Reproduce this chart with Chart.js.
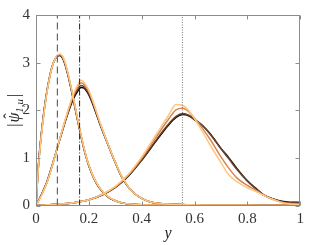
<!DOCTYPE html>
<html>
<head>
<meta charset="utf-8">
<script src="https://cdn.jsdelivr.net/npm/chart.js@4.4.1/dist/chart.umd.min.js"></script>
<style>
  html, body { margin: 0; padding: 0; background: #fff; }
  #wrap { width: 309px; height: 245px; }
</style>
</head>
<body>
<div id="wrap"><canvas id="chart" width="309" height="245"></canvas></div>
<script>
// x grids for the three families of curves
const g1x = [0, 0.01, 0.02, 0.03, 0.04, 0.05, 0.06, 0.07, 0.08, 0.09, 0.10, 0.11, 0.12, 0.13, 0.14, 0.15, 0.16, 0.17, 0.18, 0.19, 0.20, 0.22, 0.24, 0.26, 0.28, 0.30, 0.33, 0.36, 0.40, 0.45, 0.5, 0.6, 0.7, 0.8, 0.9, 1.0];
const g2x = [0, 0.02, 0.04, 0.06, 0.08, 0.10, 0.12, 0.14, 0.16, 0.17, 0.18, 0.20, 0.22, 0.24, 0.26, 0.28, 0.30, 0.32, 0.34, 0.36, 0.38, 0.40, 0.43, 0.46, 0.5, 0.6, 0.7, 0.8, 0.9, 1.0];
const g3x = [0, 0.05, 0.1, 0.15, 0.2, 0.25, 0.3, 0.35, 0.4, 0.45, 0.5, 0.53, 0.555, 0.58, 0.6, 0.63, 0.66, 0.7, 0.73, 0.76, 0.8, 0.83, 0.86, 0.9, 0.93, 0.96, 1.0];

// first peak (near y = 0.09)
const g1Black  = [0, 0.90, 1.50, 1.97, 2.36, 2.66, 2.90, 3.05, 3.13, 3.15, 3.10, 2.96, 2.76, 2.52, 2.26, 1.99, 1.72, 1.46, 1.22, 1.01, 0.83, 0.56, 0.37, 0.24, 0.15, 0.10, 0.05, 0.03, 0.015, 0.008, 0.005, 0.003, 0.002, 0.001, 0.001, 0];
const g1Brown  = [0, 0.89, 1.49, 1.96, 2.35, 2.66, 2.90, 3.05, 3.14, 3.16, 3.11, 2.97, 2.77, 2.53, 2.27, 2.00, 1.73, 1.47, 1.23, 1.02, 0.84, 0.56, 0.37, 0.24, 0.15, 0.10, 0.05, 0.03, 0.015, 0.008, 0.005, 0.003, 0.002, 0.001, 0.001, 0];
const g1Orange = [0, 0.87, 1.47, 1.94, 2.34, 2.65, 2.89, 3.05, 3.14, 3.17, 3.13, 2.99, 2.79, 2.55, 2.29, 2.02, 1.74, 1.48, 1.24, 1.03, 0.85, 0.57, 0.38, 0.25, 0.16, 0.10, 0.05, 0.03, 0.015, 0.008, 0.005, 0.003, 0.002, 0.001, 0.001, 0];
const g1Light  = [0, 0.85, 1.45, 1.93, 2.33, 2.64, 2.89, 3.05, 3.15, 3.18, 3.14, 3.00, 2.80, 2.56, 2.30, 2.03, 1.75, 1.49, 1.25, 1.03, 0.85, 0.57, 0.38, 0.25, 0.16, 0.10, 0.05, 0.03, 0.015, 0.008, 0.005, 0.003, 0.002, 0.001, 0.001, 0];

// second peak (near y = 0.17)
const g2Black  = [0, 0.22, 0.48, 0.82, 1.20, 1.57, 1.92, 2.22, 2.42, 2.48, 2.47, 2.32, 2.05, 1.74, 1.45, 1.17, 0.90, 0.65, 0.46, 0.32, 0.22, 0.15, 0.08, 0.05, 0.03, 0.01, 0.005, 0.003, 0.002, 0];
const g2Brown  = [0, 0.22, 0.47, 0.82, 1.20, 1.58, 1.94, 2.25, 2.46, 2.52, 2.50, 2.35, 2.07, 1.75, 1.46, 1.17, 0.90, 0.65, 0.46, 0.32, 0.22, 0.15, 0.08, 0.05, 0.03, 0.01, 0.005, 0.003, 0.002, 0];
const g2Orange = [0, 0.21, 0.46, 0.81, 1.20, 1.59, 1.96, 2.29, 2.51, 2.58, 2.55, 2.39, 2.10, 1.77, 1.47, 1.18, 0.91, 0.66, 0.47, 0.32, 0.22, 0.15, 0.08, 0.05, 0.03, 0.01, 0.005, 0.003, 0.002, 0];
const g2Light  = [0, 0.20, 0.46, 0.80, 1.20, 1.60, 1.98, 2.32, 2.56, 2.63, 2.60, 2.42, 2.12, 1.78, 1.47, 1.18, 0.91, 0.66, 0.47, 0.32, 0.22, 0.15, 0.08, 0.05, 0.03, 0.01, 0.005, 0.003, 0.002, 0];

// third peak (near y = 0.55)
const g3Black  = [0, 0.015, 0.035, 0.065, 0.12, 0.22, 0.38, 0.62, 0.95, 1.32, 1.68, 1.85, 1.91, 1.88, 1.80, 1.68, 1.50, 1.20, 1.00, 0.78, 0.52, 0.37, 0.23, 0.13, 0.09, 0.07, 0.065];
const g3Brown  = [0, 0.015, 0.035, 0.065, 0.12, 0.22, 0.38, 0.63, 0.96, 1.34, 1.70, 1.87, 1.93, 1.89, 1.81, 1.68, 1.49, 1.19, 0.98, 0.76, 0.51, 0.36, 0.23, 0.13, 0.08, 0.06, 0.055];
const g3Orange = [0, 0.015, 0.035, 0.065, 0.12, 0.23, 0.39, 0.64, 0.99, 1.40, 1.80, 2.01, 2.04, 1.96, 1.83, 1.62, 1.38, 1.02, 0.78, 0.58, 0.42, 0.33, 0.22, 0.12, 0.07, 0.04, 0.03];
const g3Light  = [0, 0.015, 0.035, 0.065, 0.12, 0.23, 0.40, 0.66, 1.02, 1.45, 1.88, 2.12, 2.10, 1.98, 1.82, 1.55, 1.26, 0.90, 0.64, 0.50, 0.37, 0.30, 0.22, 0.12, 0.06, 0.03, 0.02];

// reference lines
const vLineX = [0.081, 0.165, 0.554];

const xTicks = [0, 0.2, 0.4, 0.6, 0.8, 1];
const yTicks = [0, 1, 2, 3, 4];

const copper = ['#000000', '#6a4229', '#d58555', '#ffc77f'];

function pts(xs, ys) {
    return xs.map((x, i) => ({ x: x, y: ys[i] }));
}

function curve(xs, ys, color) {
    return {
        data: pts(xs, ys),
        borderColor: color,
        borderWidth: 1.5,
        pointRadius: 0,
        fill: false,
        cubicInterpolationMode: 'monotone'
    };
}

function vline(x, dash, color, width) {
    return {
        data: [{ x: x, y: 0 }, { x: x, y: 4 }],
        borderColor: color,
        borderWidth: width,
        borderDash: dash,
        pointRadius: 0,
        fill: false
    };
}

// first dataset is drawn on top, so lighter curves go first
const datasets = [
    vline(vLineX[0], [7, 4], '#666666', 1.2),
    vline(vLineX[1], [6, 2, 1, 2], '#222222', 1),
    vline(vLineX[2], [1, 1.5], '#777777', 1),
    curve(g1x, g1Light, copper[3]),
    curve(g2x, g2Light, copper[3]),
    curve(g3x, g3Light, copper[3]),
    curve(g1x, g1Orange, copper[2]),
    curve(g2x, g2Orange, copper[2]),
    curve(g3x, g3Orange, copper[2]),
    curve(g1x, g1Brown, copper[1]),
    curve(g2x, g2Brown, copper[1]),
    curve(g3x, g3Brown, copper[1]),
    curve(g1x, g1Black, copper[0]),
    curve(g2x, g2Black, copper[0]),
    curve(g3x, g3Black, copper[0])
];

const serif = '"Liberation Serif", "DejaVu Serif", serif';

// box, inward ticks and axis titles
const frame = {
    id: 'frame',
    afterDraw(chart) {
        const c = chart.ctx;
        const xs = chart.scales.x, ys = chart.scales.y;
        const L = Math.round(xs.getPixelForValue(0)) + 0.5;
        const R = Math.round(xs.getPixelForValue(1)) - 0.5;
        const T = Math.round(ys.getPixelForValue(4)) + 0.5;
        const B = Math.round(ys.getPixelForValue(0)) - 0.5;
        c.save();
        c.strokeStyle = '#8c8c8c';
        c.lineWidth = 1;
        c.strokeRect(L, T, R - L, B - T);
        c.beginPath();
        xTicks.forEach(v => {
            const p = Math.round(xs.getPixelForValue(v)) + 0.5;
            c.moveTo(p, B); c.lineTo(p, B - 4);
            c.moveTo(p, T); c.lineTo(p, T + 4);
        });
        yTicks.forEach(v => {
            const p = Math.round(ys.getPixelForValue(v)) + 0.5;
            c.moveTo(L, p); c.lineTo(L + 4, p);
            c.moveTo(R, p); c.lineTo(R - 4, p);
        });
        c.stroke();

        // x title
        c.fillStyle = '#222';
        c.textAlign = 'center';
        c.textBaseline = 'alphabetic';
        c.font = 'italic 16px ' + serif;
        c.fillText('y', (xs.left + xs.right) / 2, 238);

        // y title |psi-hat_{1,u}|
        c.translate(14, (ys.top + ys.bottom) / 2);
        c.rotate(-Math.PI / 2);
        c.textAlign = 'left';
        const main = 'italic 16px ' + serif;
        const sub = 'italic 11px ' + serif;
        const up = '16px ' + serif;
        c.font = up; const w1 = c.measureText('|').width;
        c.font = main; const w2 = c.measureText('\u03c8').width;
        c.font = sub; const w3 = c.measureText('1,u').width;
        const total = w1 + 1 + w2 + w3 + 2 + w1;
        let x0 = -total / 2;
        c.font = up; c.fillText('|', x0, 5); x0 += w1 + 1;
        c.font = main; c.fillText('\u03c8', x0, 5);
        c.font = up; c.textAlign = 'center';
        c.fillText('\u02c6', x0 + w2 / 2 + 1.5, 1);
        c.textAlign = 'left';
        x0 += w2;
        c.font = sub; c.fillText('1,u', x0, 9); x0 += w3 + 2;
        c.font = up; c.fillText('|', x0, 5);
        c.restore();
    }
};

const ctx = document.getElementById('chart').getContext('2d');
const chart = new Chart(ctx, {
    type: 'line',
    data: { datasets: datasets },
    options: {
        responsive: false,
        animation: false,
        events: [],
        layout: { padding: { top: 5.5, right: 3, left: 0, bottom: 0 } },
        plugins: { legend: { display: false }, tooltip: { enabled: false } },
        scales: {
            x: {
                type: 'linear',
                min: 0,
                max: 1,
                grid: { display: false, drawTicks: false },
                border: { display: false },
                afterFit(scale) { scale.height = 39.5; },
                afterBuildTicks(scale) { scale.ticks = xTicks.map(v => ({ value: v })); },
                ticks: {
                    color: '#333',
                    padding: 5,
                    maxRotation: 0,
                    font: { family: serif, size: 15 },
                    callback: v => String(v)
                }
            },
            y: {
                type: 'linear',
                min: 0,
                max: 4,
                grid: { display: false, drawTicks: false },
                border: { display: false },
                afterFit(scale) { scale.width = 36; },
                afterBuildTicks(scale) { scale.ticks = yTicks.map(v => ({ value: v })); },
                ticks: {
                    color: '#333',
                    padding: 6,
                    font: { family: serif, size: 15 },
                    callback: v => String(v)
                }
            }
        }
    },
    plugins: [frame]
});
</script>
</body>
</html>
